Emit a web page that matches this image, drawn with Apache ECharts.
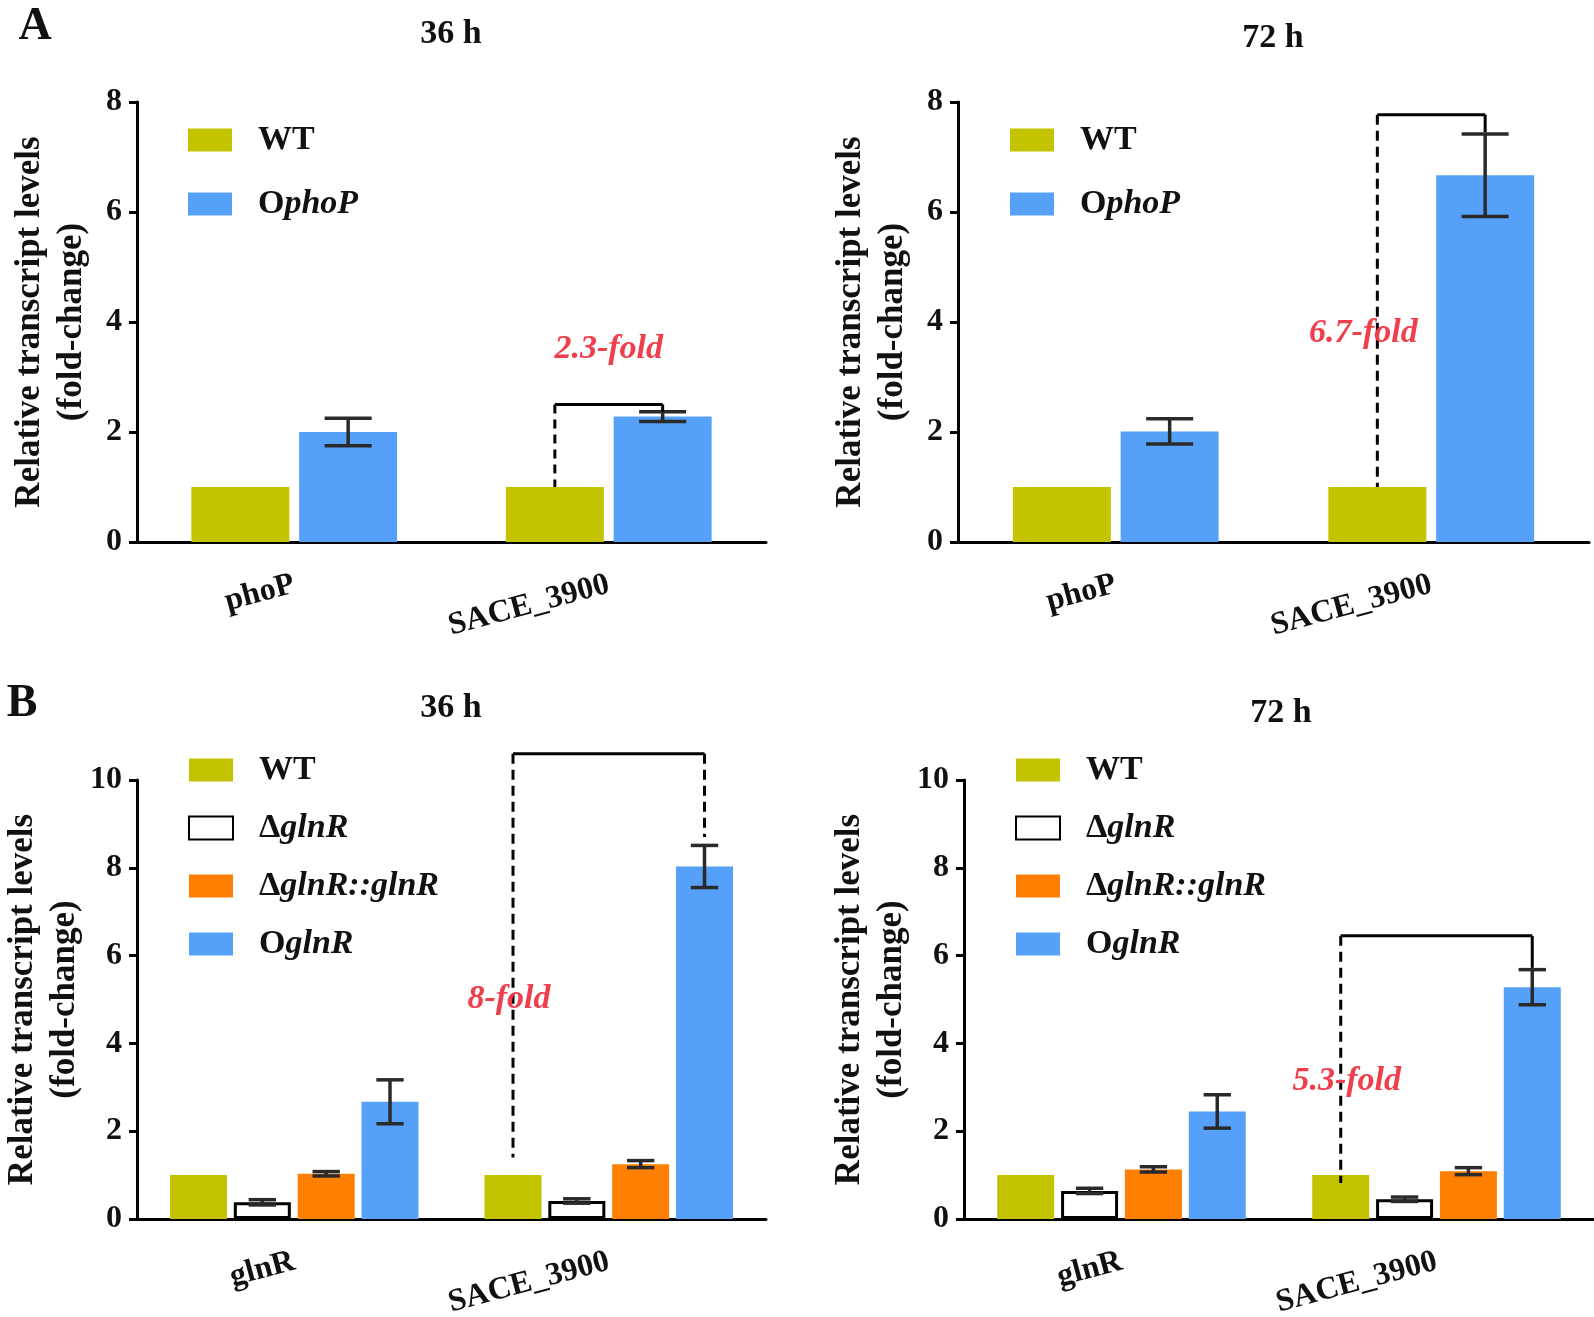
<!DOCTYPE html>
<html>
<head>
<meta charset="utf-8">
<script src="https://cdn.jsdelivr.net/npm/echarts@6/dist/echarts.min.js"></script>
<style>
html,body{margin:0;padding:0;background:#fff;}
#chart{width:1594px;height:1317px;}
</style>
</head>
<body>
<div id="chart"></div>
<script>
// ---------------- DATA ----------------
const catsA = ['phoP', 'SACE_3900'];
const catsB = ['glnR', 'SACE_3900'];
const yTicksA = [0, 2, 4, 6, 8];
const yTicksB = [0, 2, 4, 6, 8, 10];

// Panel A, 36 h
const a36WT = [1.0, 1.0];
const a36OphoP = [2.0, 2.28];
const a36OphoPErr = [0.25, 0.09];
// Panel A, 72 h
const a72WT = [1.0, 1.0];
const a72OphoP = [2.01, 6.67];
const a72OphoPErr = [0.23, 0.75];
// Panel B, 36 h
const b36WT = [1.0, 1.0];
const b36Dg = [0.38, 0.41];
const b36DgErr = [0.06, 0.05];
const b36Comp = [1.03, 1.25];
const b36CompErr = [0.05, 0.08];
const b36O = [2.67, 8.03];
const b36OErr = [0.5, 0.48];
// Panel B, 72 h
const b72WT = [1.0, 1.0];
const b72Dg = [0.64, 0.45];
const b72DgErr = [0.06, 0.05];
const b72Comp = [1.13, 1.09];
const b72CompErr = [0.06, 0.08];
const b72O = [2.45, 5.28];
const b72OErr = [0.38, 0.4];

// brackets: [category, level, left end, right end]
const a36Bracket = [1, 2.5, 1.0, 2.37];
const a72Bracket = [1, 7.77, 1.0, 7.45];
const b36Bracket = [1, 10.6, 1.4, 8.7];
const b72Bracket = [1, 6.45, 0.82, 5.72];
// fold labels: [category, value, text]
const a36Fold = [1, 3.5, '2.3-fold'];
const a72Fold = [1, 3.8, '6.7-fold'];
const b36Fold = [1, 5.0, '8-fold'];
const b72Fold = [1, 3.14, '5.3-fold'];

// ---------------- STYLE ----------------
const FONT = '"Liberation Serif", "Times New Roman", serif';
const C_WT = '#C3C300', C_BLUE = '#55A1FA', C_ORANGE = '#FF8000';
const C_RED = '#EF3E4C', C_INK = '#111';
const ERR = '#2a2a2a';

const chart = echarts.init(document.getElementById('chart'), null, {renderer: 'canvas'});

const panels = [
  {grid: {left: 137, top: 102, width: 629, height: 440}, cats: catsA, ticks: yTicksA,
   bw: 98, gap: 0.10,
   series: [{name: 'WT', data: a36WT}, {name: 'OphoP', data: a36OphoP, err: a36OphoPErr}],
   bracket: a36Bracket, bracketRightDashed: false, leftDash: [9, 6], fold: a36Fold, foldSlot: 0.5, foldDx: 0,
   legend: {left: 183, top: 118, itemGap: 30}},
  {grid: {left: 958, top: 102, width: 631, height: 440}, cats: catsA, ticks: yTicksA,
   bw: 98, gap: 0.10,
   series: [{name: 'WT', data: a72WT}, {name: 'OphoP', data: a72OphoP, err: a72OphoPErr}],
   bracket: a72Bracket, bracketRightDashed: false, leftDash: [10, 6], fold: a72Fold, foldSlot: 0, foldDx: -14,
   legend: {left: 1005, top: 118, itemGap: 30}},
  {grid: {left: 137, top: 780, width: 629, height: 439}, cats: catsB, ticks: yTicksB,
   bw: 57, gap: 0.12,
   series: [{name: 'WT', data: b36WT}, {name: 'ΔglnR', data: b36Dg, err: b36DgErr},
            {name: 'ΔglnR::glnR', data: b36Comp, err: b36CompErr}, {name: 'OglnR', data: b36O, err: b36OErr}],
   bracket: b36Bracket, bracketRightDashed: true, leftDash: [10, 6], fold: b36Fold, foldSlot: 0, foldDx: -4,
   legend: {left: 183, top: 748, itemGap: 24}},
  {grid: {left: 964, top: 780, width: 630, height: 439}, cats: catsB, ticks: yTicksB,
   bw: 57, gap: 0.12,
   series: [{name: 'WT', data: b72WT}, {name: 'ΔglnR', data: b72Dg, err: b72DgErr},
            {name: 'ΔglnR::glnR', data: b72Comp, err: b72CompErr}, {name: 'OglnR', data: b72O, err: b72OErr}],
   bracket: b72Bracket, bracketRightDashed: false, leftDash: [10, 6], fold: b72Fold, foldSlot: 0, foldDx: 6,
   legend: {left: 1010, top: 748, itemGap: 24}}
];

const seriesStyle = {
  'WT': {color: C_WT},
  'OphoP': {color: C_BLUE},
  'OglnR': {color: C_BLUE},
  'ΔglnR': {color: '#ffffff', borderColor: '#000', borderWidth: 3},
  'ΔglnR::glnR': {color: C_ORANGE}
};
const legendRich = {
  'WT': '{n|WT}',
  'OphoP': '{n|O}{i|phoP}',
  'OglnR': '{n|O}{i|glnR}',
  'ΔglnR': '{n|Δ}{i|glnR}',
  'ΔglnR::glnR': '{n|Δ}{i|glnR::glnR}'
};

function slotOffset(p, slot) {
  const n = p.series.length;
  return (slot - (n - 1) / 2) * p.bw * (1 + p.gap);
}

const grids = [], xAxes = [], yAxes = [], legends = [], series = [];
panels.forEach((p, gi) => {
  grids.push(Object.assign({containLabel: false, outerBoundsMode: 'none'}, p.grid));
  xAxes.push({
    type: 'category', gridIndex: gi, data: p.cats,
    axisLine: {lineStyle: {color: '#000', width: 3}},
    axisTick: {alignWithLabel: true, length: 10, lineStyle: {color: '#000', width: 3}},
    axisLabel: {rotate: 15, margin: 42, fontFamily: FONT, fontWeight: 'bold', fontSize: 32, color: C_INK}
  });
  const ymax = p.ticks[p.ticks.length - 1];
  yAxes.push({
    type: 'value', gridIndex: gi, min: p.ticks[0], max: ymax, interval: p.ticks[1] - p.ticks[0],
    name: 'Relative transcript levels\n(fold-change)', nameLocation: 'middle', nameGap: 44,
    nameTextStyle: {fontFamily: FONT, fontWeight: 'bold', fontSize: 35, color: C_INK, lineHeight: 42},
    axisLine: {show: true, lineStyle: {color: '#000', width: 3}},
    axisTick: {show: true, length: 8, lineStyle: {color: '#000', width: 3}},
    splitLine: {show: false},
    axisLabel: {margin: 15, fontFamily: FONT, fontWeight: 'bold', fontSize: 32, color: C_INK}
  });
  legends.push({
    orient: 'vertical', left: p.legend.left, top: p.legend.top, itemGap: p.legend.itemGap,
    itemWidth: 44, itemHeight: 23, icon: 'rect', selectedMode: false,
    data: p.series.map(s => s.name),
    formatter: name => legendRich[name],
    textStyle: {
      padding: [0, 0, 0, 21], color: C_INK,
      rich: {
        n: {fontFamily: FONT, fontWeight: 'bold', fontStyle: 'normal', fontSize: 34, lineHeight: 36, color: C_INK},
        i: {fontFamily: FONT, fontWeight: 'bold', fontStyle: 'italic', fontSize: 34, lineHeight: 36, color: C_INK}
      }
    }
  });
  p.series.forEach((s, si) => {
    series.push({
      type: 'bar', name: s.name, xAxisIndex: gi, yAxisIndex: gi, data: s.data,
      barWidth: p.bw, barGap: (p.gap * 100) + '%',
      itemStyle: seriesStyle[s.name], silent: true, z: 2
    });
    if (s.err) {
      const off = slotOffset(p, si);
      const half = p.bw * 0.24;
      series.push({
        type: 'custom', xAxisIndex: gi, yAxisIndex: gi, clip: false, silent: true, z: 5,
        data: s.data.map((v, i) => [i, v, s.err[i]]),
        encode: {x: 0, y: 1},
        renderItem: (params, api) => {
          const i = api.value(0), v = api.value(1), e = api.value(2);
          const t = api.coord([i, v + e]), b = api.coord([i, v - e]);
          const x = t[0] + off;
          const st = {stroke: ERR, lineWidth: 3.5};
          return {type: 'group', children: [
            {type: 'line', shape: {x1: x, y1: t[1], x2: x, y2: b[1]}, style: st},
            {type: 'line', shape: {x1: x - half, y1: t[1], x2: x + half, y2: t[1]}, style: st},
            {type: 'line', shape: {x1: x - half, y1: b[1], x2: x + half, y2: b[1]}, style: st}
          ]};
        }
      });
    }
  });
  // bracket
  const offL = slotOffset(p, 0), offR = slotOffset(p, p.series.length - 1);
  series.push({
    type: 'custom', xAxisIndex: gi, yAxisIndex: gi, clip: false, silent: true, z: 6,
    data: [p.bracket], encode: {x: 0, y: 1},
    renderItem: (params, api) => {
      const c = api.value(0), lv = api.value(1), le = api.value(2), re = api.value(3);
      const pl = api.coord([c, lv]);
      const xl = pl[0] + offL, xr = pl[0] + offR, y = pl[1];
      const yl = api.coord([c, le])[1], yr = api.coord([c, re])[1];
      const solid = {stroke: '#000', lineWidth: 3};
      const dashed = {stroke: '#000', lineWidth: 3, lineDash: p.leftDash};
      return {type: 'group', children: [
        {type: 'line', shape: {x1: xl, y1: y, x2: xr, y2: y}, style: solid},
        {type: 'line', shape: {x1: xl, y1: y, x2: xl, y2: yl}, style: dashed},
        {type: 'line', shape: {x1: xr, y1: y, x2: xr, y2: yr}, style: p.bracketRightDashed ? dashed : solid}
      ]};
    }
  });
  // fold-change label
  const offF = slotOffset(p, p.foldSlot) + p.foldDx;
  series.push({
    type: 'custom', xAxisIndex: gi, yAxisIndex: gi, clip: false, silent: true, z: 7,
    data: [p.fold], encode: {x: 0, y: 1},
    renderItem: (params, api) => {
      const pt = api.coord([api.value(0), api.value(1)]);
      return {type: 'text', x: pt[0] + offF, y: pt[1], style: {
        text: p.fold[2], fill: C_RED, fontFamily: FONT, fontWeight: 'bold', fontStyle: 'italic',
        fontSize: 34, align: 'center', verticalAlign: 'middle'
      }};
    }
  });
});

const headStyle = (txt, size) => ({text: txt, fill: C_INK, fontFamily: FONT, fontWeight: 'bold', fontSize: size, align: 'center', verticalAlign: 'middle'});
const graphic = [
  {type: 'text', x: 35, y: 27, style: headStyle('A', 46)},
  {type: 'text', x: 22, y: 704, style: headStyle('B', 46)},
  {type: 'text', x: 451, y: 34, style: headStyle('36 h', 34)},
  {type: 'text', x: 1273, y: 38, style: headStyle('72 h', 34)},
  {type: 'text', x: 451, y: 708, style: headStyle('36 h', 34)},
  {type: 'text', x: 1281, y: 713, style: headStyle('72 h', 34)}
];

chart.setOption({
  animation: false,
  backgroundColor: '#fff',
  grid: grids, xAxis: xAxes, yAxis: yAxes, legend: legends, series: series, graphic: graphic
});
</script>
</body>
</html>
